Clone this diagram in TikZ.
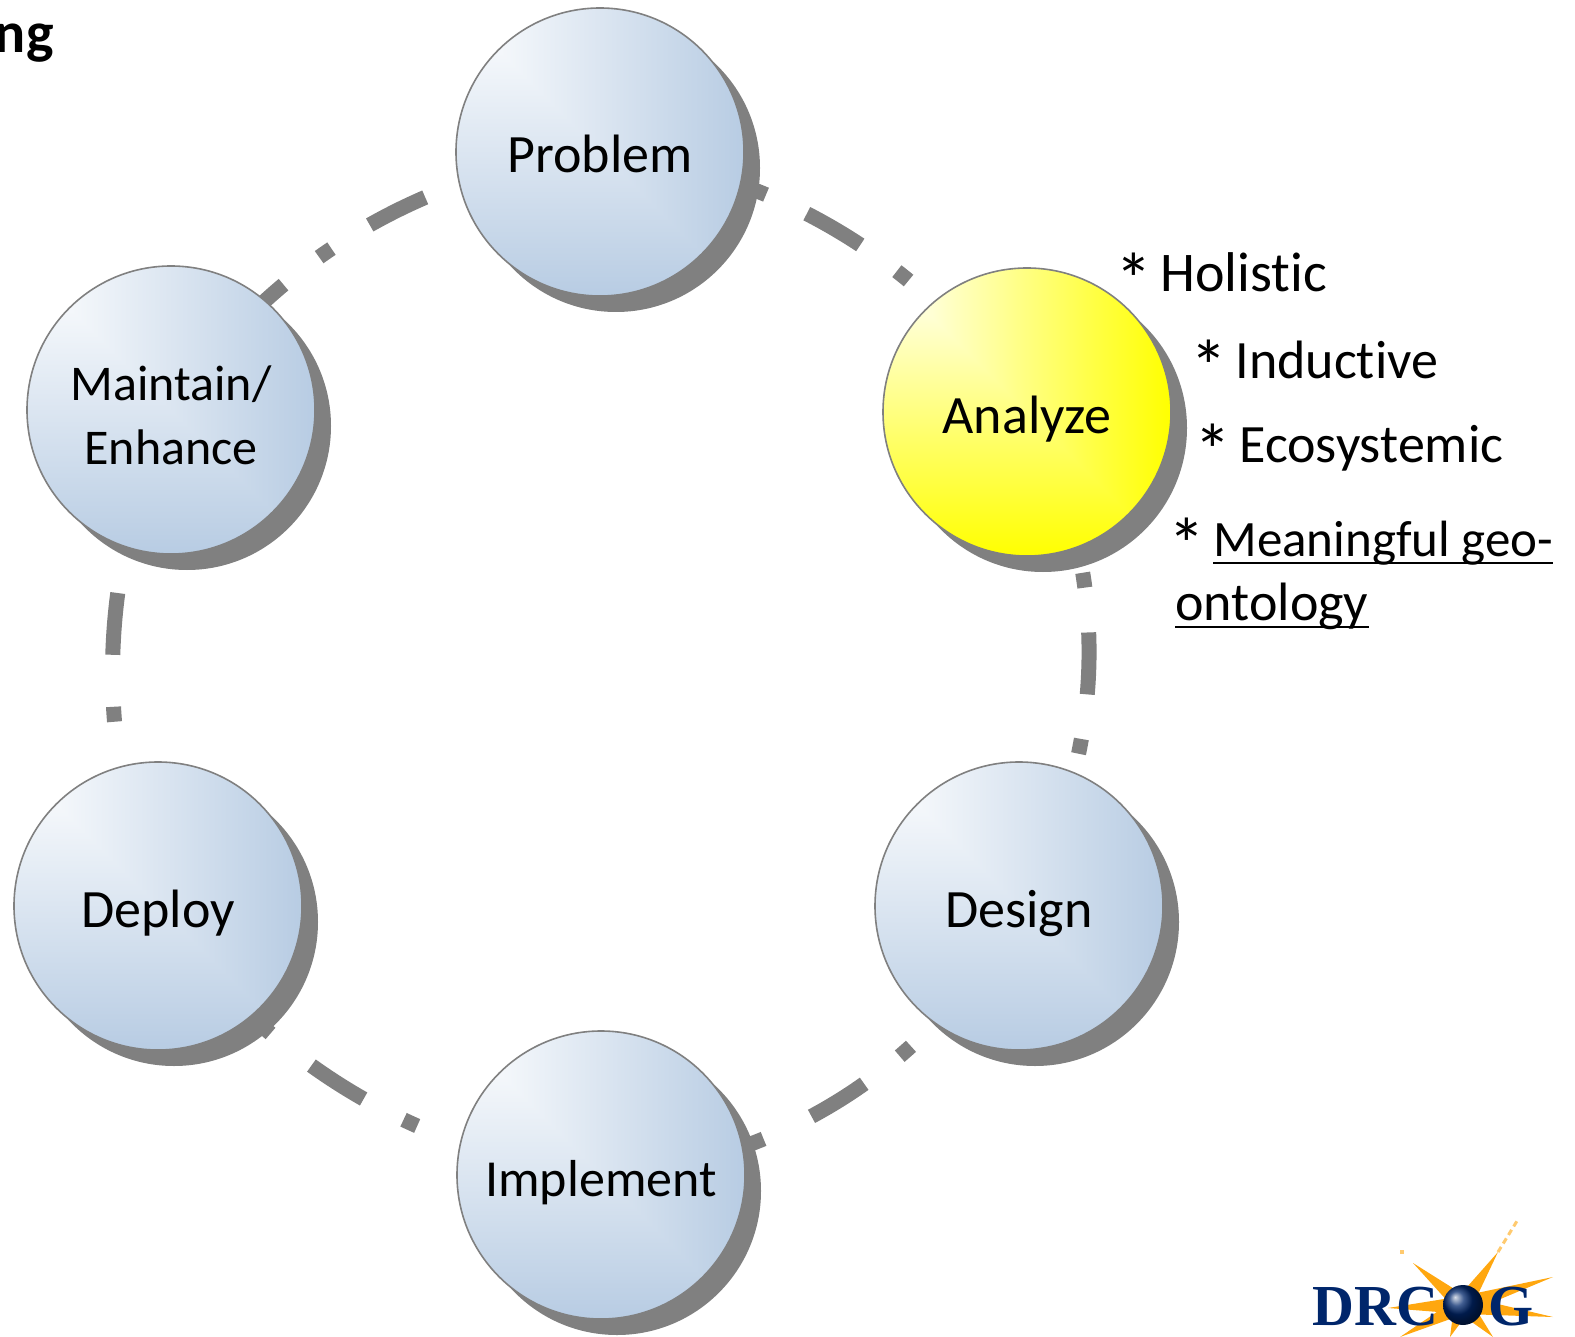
\documentclass[tikz,border=0pt]{standalone}
\usepackage{fontspec}
\setmainfont{Carlito}[Ligatures=NoCommon]
\newfontfamily\logofont{Liberation Serif}
\usetikzlibrary{backgrounds, calc, shadows}
\definecolor{ringgray}{HTML}{808080}
\definecolor{logonavy}{HTML}{00266B}
\definecolor{logoorange}{HTML}{FFA70F}
\pgfdeclarefunctionalshading{bluefade}{\pgfpoint{-50bp}{-50bp}}{\pgfpoint{50bp}{50bp}}{}{
25 exch sub exch 25 add 2 copy lt {exch} if pop 50 div
dup 0.28 mul 1 exch sub exch dup 0.20 mul 1 exch sub exch 0.11 mul 1 exch sub
}
\pgfdeclarefunctionalshading{yellowfade}{\pgfpoint{-50bp}{-50bp}}{\pgfpoint{50bp}{50bp}}{}{
25 exch sub exch 25 add 2 copy lt {exch} if pop 50 div
1 exch 1 exch sub 1 exch
}
\newcommand{\ultext}[1]{\setbox0\hbox{#1}\rlap{\rule[-4pt]{\wd0}{1pt}}\box0}
\newcommand{\notestar}{\makebox[22.5pt][l]{\raisebox{-7pt}{\fontsize{37}{37}\selectfont *}}}

\begin{document}
\begin{tikzpicture}[
x=0.5pt, y=-0.5pt,
ball/.style={circle,
draw=ringgray,
line width=0.8pt,
minimum size=144pt,
inner sep=0pt,
align=center,
text height=21pt,
text depth=0pt,
font=\fontsize{27}{32}\selectfont,
shade, shading=bluefade,
drop shadow={shadow xshift=8pt, shadow yshift=-8pt, opacity=1, fill=ringgray}},
ring/.style={ringgray, line width=7.5pt, dash pattern=on 31pt off 22.5pt on 7.5pt off 22.5pt, bend left=#1, looseness=0.91},
ring/.default=30,
note/.style={anchor=base west, inner sep=0pt, font=\fontsize{27}{32}\selectfont}
]
\useasboundingbox (0,0) rectangle (1575,1337);

\node[ball] (problem) at (600,152) {Problem};
\node[ball, shading=yellowfade] (analyze) at (1027,412) {Analyze};
\node[ball] (design) at (1019,906) {Design};
\node[ball, font=\fontsize{26}{32}\selectfont] (implement) at (601,1175) {Implement};
\node[ball] (deploy) at (158,906) {Deploy};
\node[ball, text height=, text depth=, font=\fontsize{25}{32}\selectfont] (maintain) at (171,410) {\rule{0pt}{23pt}Maintain/\\Enhance};

\begin{scope}[on background layer]
\draw[ring=25, dash phase=58.5pt] (problem.center) to (analyze.center);
\draw[ring, dash phase=51.5pt] (analyze.center) to (design.center);
\draw[ring, dash pattern=on 31pt off 26.5pt on 7.5pt off 22.5pt, dash phase=56pt] (design.center) to (implement.center);
\draw[ring=25, dash pattern=on 31pt off 26pt on 7.5pt off 22.5pt, dash phase=48.5pt] (implement.center) to (deploy.center);
\draw[ring=23, dash pattern=on 31pt off 24.5pt on 7.5pt off 26pt, dash phase=49.5pt] (deploy.center) to (maintain.center);
\draw[ring=25, dash phase=30pt] (maintain.center) to (problem.center);
\end{scope}

\node[note, font=\fontsize{28}{32}\selectfont] (holistic) at (1115,292) {\notestar Holistic};
\node[note] (inductive) at (1190,379) {\notestar Inductive};
\node[note] (ecosystemic) at (1194,462) {\notestar Ecosystemic};
\node[note, font=\fontsize{25.5}{32}\selectfont] (meaningful) at (1168,556) {\notestar\ultext{Meaningful geo-}};
\node[note] (ontology) at (1175,620) {\ultext{ontology}};
\node[anchor=base east, inner sep=0pt, font=\fontsize{29}{32}\selectfont\bfseries] (corner) at (54,53) {ng};

\coordinate (logoball) at (1463,1305);
\foreach \tip in {(1498,1252), (1413,1263), (1553,1277), (1553,1317), (1388,1308), (1400,1337), (1450,1337), (1493,1337)}
  \fill[logoorange] ($(logoball)!4.5pt!90:\tip$) -- \tip -- ($(logoball)!4.5pt!-90:\tip$) -- cycle;
\draw[logoorange!60, line width=1.5pt, dash pattern=on 3pt off 2pt] (1498,1252) -- (1517,1221);
\fill[logoorange!60] (1400,1250) rectangle (1404,1254);
\node[anchor=base west, inner sep=0pt, text=logonavy, font=\logofont\fontsize{29}{32}\selectfont\bfseries] (drc) at (1312,1325) {DRC};
\node[anchor=base west, inner sep=0pt, text=logonavy, font=\logofont\fontsize{29}{32}\selectfont\bfseries] (glogo) at (1488,1325) {G};
\shade[ball color=logonavy] (logoball) circle (10pt);
\end{tikzpicture}
\end{document}
